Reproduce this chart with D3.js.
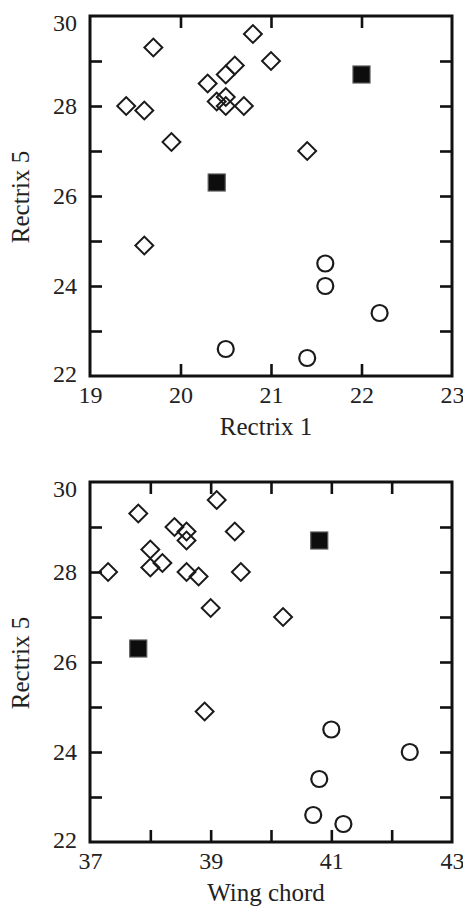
<!DOCTYPE html>
<html>
<head>
<meta charset="utf-8">
<script src="https://cdn.jsdelivr.net/npm/d3@7"></script>
<style>
  body { margin: 0; background: #fff; }
</style>
</head>
<body>
<div id="chart"></div>
<script>
// ---- data ----
// panel 1: Rectrix 1 vs Rectrix 5
var topDiamondX = [19.4, 19.6, 19.7, 19.9, 20.3, 20.4, 20.5, 20.5, 20.5, 20.6, 20.7, 20.8, 21.0, 21.4, 19.6];
var topDiamondY = [28.0, 27.9, 29.3, 27.2, 28.5, 28.1, 28.2, 28.0, 28.7, 28.9, 28.0, 29.6, 29.0, 27.0, 24.9];
var topCircleX = [21.6, 21.6, 22.2, 20.5, 21.4];
var topCircleY = [24.5, 24.0, 23.4, 22.6, 22.4];
var topSquareX = [22.0, 20.4];
var topSquareY = [28.7, 26.3];

// panel 2: Wing chord vs Rectrix 5
var botDiamondX = [37.3, 37.8, 38.0, 38.0, 38.2, 38.4, 38.6, 38.6, 38.6, 38.8, 39.0, 39.1, 39.4, 39.5, 40.2, 38.9];
var botDiamondY = [28.0, 29.3, 28.5, 28.1, 28.2, 29.0, 28.9, 28.7, 28.0, 27.9, 27.2, 29.6, 28.9, 28.0, 27.0, 24.9];
var botCircleX = [41.0, 42.3, 40.8, 40.7, 41.2];
var botCircleY = [24.5, 24.0, 23.4, 22.6, 22.4];
var botSquareX = [40.8, 37.8];
var botSquareY = [28.7, 26.3];

var yTickLabels = [22, 24, 26, 28, 30];
var yMinorTicks = [23, 24, 25, 26, 27, 28, 29];
var topXLabels = [19, 20, 21, 22, 23];
var topXTicks = [20, 21, 22];
var botXLabels = [37, 39, 41, 43];
var botXTicks = [38, 39, 40, 41, 42];

var svgWidth = 463;
var svgHeight = 908;
var margin = {left: 90, right: 11};
var width = svgWidth - margin.left - margin.right;
var height = 360;
var tickLen = 12;
var serif = "'Liberation Serif', 'DejaVu Serif', serif";

var svg = d3.select("#chart")
    .append("svg")
    .attr("width", svgWidth)
    .attr("height", svgHeight)
    .attr("font-family", serif);

function zip(xs, ys) {
    return xs.map((x, i) => ({x: x, y: ys[i]}));
}

function drawPanel(top, xDomain, xLabels, xTicks, xTitle, diamonds, circles, squares) {
    var g = svg.append("g")
        .attr("transform", `translate(${margin.left}, ${top})`);

    var x = d3.scaleLinear().domain(xDomain).range([0, width]);
    var y = d3.scaleLinear().domain([22, 30]).range([height, 0]);

    // inward ticks on all four sides
    var tickAxes = [
        [d3.axisBottom(x).tickValues(xTicks).tickSize(-tickLen), `translate(0, ${height})`],
        [d3.axisTop(x).tickValues(xTicks).tickSize(-tickLen), "translate(0, 0)"],
        [d3.axisLeft(y).tickValues(yMinorTicks).tickSize(-tickLen), "translate(0, 0)"],
        [d3.axisRight(y).tickValues(yMinorTicks).tickSize(-tickLen), `translate(${width}, 0)`]
    ];
    tickAxes.forEach(function(a) {
        var ax = g.append("g")
            .attr("transform", a[1])
            .call(a[0].tickFormat(""));
        ax.select(".domain").remove();
        ax.selectAll("line").attr("stroke", "#111").attr("stroke-width", 2.6);
    });

    // frame
    g.append("rect")
        .attr("x", 0).attr("y", 0)
        .attr("width", width).attr("height", height)
        .attr("fill", "none")
        .attr("stroke", "#111")
        .attr("stroke-width", 3);

    // tick labels
    var xl = g.append("g")
        .attr("transform", `translate(0, ${height})`)
        .call(d3.axisBottom(x).tickValues(xLabels).tickFormat(d3.format("d")).tickSize(0).tickPadding(10))
        .attr("font-family", serif)
        .attr("font-size", 24);
    xl.select(".domain").remove();
    xl.selectAll("text").attr("fill", "#222");

    var yl = g.append("g")
        .call(d3.axisLeft(y).tickValues(yTickLabels).tickFormat(d3.format("d")).tickSize(0).tickPadding(13))
        .attr("font-family", serif)
        .attr("font-size", 24);
    yl.select(".domain").remove();
    yl.selectAll("text")
        .attr("fill", "#222")
        .attr("dy", d => d === 30 ? "0.6em" : (d === 22 ? "0.22em" : "0.32em"));

    // axis titles
    g.append("text")
        .attr("x", width / 2 - 5)
        .attr("y", height + 59)
        .attr("text-anchor", "middle")
        .attr("font-size", 25)
        .attr("fill", "#222")
        .text(xTitle);

    g.append("text")
        .attr("transform", `translate(${29 - margin.left}, ${height / 2 + 1}) rotate(-90)`)
        .attr("text-anchor", "middle")
        .attr("font-size", 25)
        .attr("fill", "#222")
        .text("Rectrix 5");

    // markers
    var diamondSym = d3.symbol().type(d3.symbolSquare).size(160);
    g.selectAll(".diamond")
        .data(diamonds)
        .enter()
        .append("path")
        .attr("class", "diamond")
        .attr("d", diamondSym)
        .attr("transform", d => `translate(${x(d.x)}, ${y(d.y)}) rotate(45)`)
        .attr("fill", "none")
        .attr("stroke", "#1a1a1a")
        .attr("stroke-width", 2);

    g.selectAll(".ring")
        .data(circles)
        .enter()
        .append("circle")
        .attr("class", "ring")
        .attr("cx", d => x(d.x))
        .attr("cy", d => y(d.y))
        .attr("r", 8)
        .attr("fill", "none")
        .attr("stroke", "#1a1a1a")
        .attr("stroke-width", 2.2);

    g.selectAll(".box")
        .data(squares)
        .enter()
        .append("rect")
        .attr("class", "box")
        .attr("x", d => x(d.x) - 8.5)
        .attr("y", d => y(d.y) - 8.5)
        .attr("width", 17)
        .attr("height", 17)
        .attr("fill", "#0d0d0d")
        .attr("stroke", "#555")
        .attr("stroke-width", 1.2);
}

drawPanel(16, [19, 23], topXLabels, topXTicks, "Rectrix 1",
    zip(topDiamondX, topDiamondY), zip(topCircleX, topCircleY), zip(topSquareX, topSquareY));

drawPanel(482, [37, 43], botXLabels, botXTicks, "Wing chord",
    zip(botDiamondX, botDiamondY), zip(botCircleX, botCircleY), zip(botSquareX, botSquareY));
</script>
</body>
</html>
